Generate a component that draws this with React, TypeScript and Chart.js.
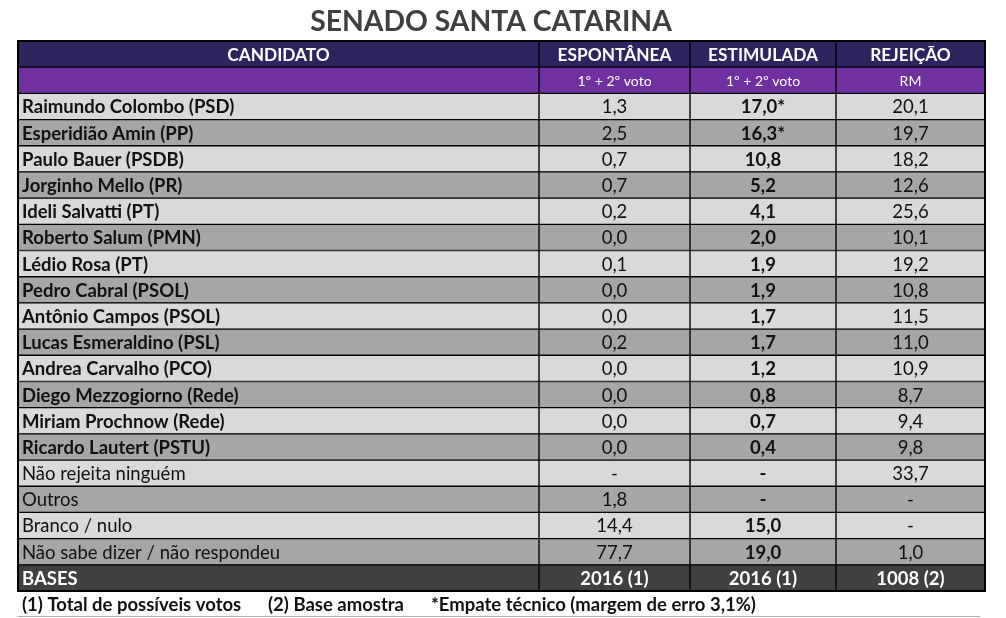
import React, { useEffect, useRef } from "react";
import { Chart, registerables } from "chart.js";

Chart.register(...registerables);

const title = "SENADO SANTA CATARINA";
const columnHeaders = ["CANDIDATO", "ESPONTÂNEA", "ESTIMULADA", "REJEIÇÃO"];
const columnSubHeaders = ["", "1º + 2º voto", "1º + 2º voto", "RM"];
const candidates = [
  "Raimundo Colombo (PSD)",
  "Esperidião Amin (PP)",
  "Paulo Bauer (PSDB)",
  "Jorginho Mello (PR)",
  "Ideli Salvatti (PT)",
  "Roberto Salum (PMN)",
  "Lédio Rosa (PT)",
  "Pedro Cabral (PSOL)",
  "Antônio Campos (PSOL)",
  "Lucas Esmeraldino (PSL)",
  "Andrea Carvalho (PCO)",
  "Diego Mezzogiorno (Rede)",
  "Miriam Prochnow (Rede)",
  "Ricardo Lautert (PSTU)",
  "Não rejeita ninguém",
  "Outros",
  "Branco / nulo",
  "Não sabe dizer / não respondeu",
];
const isCandidate = [
  true, true, true, true, true, true, true, true, true, true, true, true, true, true,
  false, false, false, false,
];
const espontanea = [1.3, 2.5, 0.7, 0.7, 0.2, 0.0, 0.1, 0.0, 0.0, 0.2, 0.0, 0.0, 0.0, 0.0, null, 1.8, 14.4, 77.7];
const estimulada = [17.0, 16.3, 10.8, 5.2, 4.1, 2.0, 1.9, 1.9, 1.7, 1.7, 1.2, 0.8, 0.7, 0.4, null, null, 15.0, 19.0];
const rejeicao = [20.1, 19.7, 18.2, 12.6, 25.6, 10.1, 19.2, 10.8, 11.5, 11.0, 10.9, 8.7, 9.4, 9.8, 33.7, null, null, 1.0];
const empateTecnico = [
  true, true, false, false, false, false, false, false, false, false, false, false, false, false,
  false, false, false, false,
];
const basesLabel = "BASES";
const bases = ["2016 (1)", "2016 (1)", "1008 (2)"];
const footnotes = ["(1) Total de possíveis votos", "(2) Base amostra", "*Empate técnico (margem de erro 3,1%)"];

// layout (not data)
const COL_BOUNDS = [0, 521, 672, 818, 967];
const FONT = "Lato, 'Open Sans', sans-serif";
const NAVY = "#2d255f";
const PURPLE = "#7030a0";
const LIGHT = "#d9d9d9";
const DARK = "#a6a6a6";
const BASES_BG = "#404040";
const ROW_PX = 18.5;

const fmt = (v: number | null) => (v === null ? "-" : v.toFixed(1).replace(".", ","));

const rowLabels = ["__header", "__sub", ...candidates, "__bases"];

function rowColor(i: number) {
  if (i === 0) return NAVY;
  if (i === 1) return PURPLE;
  if (i === rowLabels.length - 1) return BASES_BG;
  return (i - 2) % 2 === 0 ? LIGHT : DARK;
}

const tablePlugin = {
  id: "tableText",
  afterDatasetsDraw(chart: any) {
    const { ctx, chartArea, scales } = chart;
    const xs = scales.x;
    const ys = scales.y;
    ctx.save();
    // outer border
    ctx.strokeStyle = "#000";
    ctx.lineWidth = 2;
    ctx.strokeRect(chartArea.left, chartArea.top, chartArea.right - chartArea.left, chartArea.bottom - chartArea.top);

    ctx.textBaseline = "middle";
    const cellX = (c: number) => {
      if (c === 0) return xs.getPixelForValue(COL_BOUNDS[0]) + 4;
      return (xs.getPixelForValue(COL_BOUNDS[c]) + xs.getPixelForValue(COL_BOUNDS[c + 1])) / 2;
    };
    const put = (text: string, r: number, c: number, font: string, color: string, center?: boolean) => {
      const y = ys.getPixelForValue(r) + 1;
      ctx.font = font;
      ctx.fillStyle = color;
      ctx.textAlign = c === 0 && !center ? "left" : "center";
      const x = c === 0 && center ? (xs.getPixelForValue(COL_BOUNDS[0]) + xs.getPixelForValue(COL_BOUNDS[1])) / 2 : cellX(c);
      ctx.fillText(text, x, y);
    };

    // headers
    columnHeaders.forEach((h, c) => put(h, 0, c, `bold 17.3px ${FONT}`, "#fff", true));
    columnSubHeaders.forEach((h, c) => { if (h) put(h, 1, c, `14px ${FONT}`, "#fff"); });

    candidates.forEach((name, k) => {
      const r = k + 2;
      put(name, r, 0, `${isCandidate[k] ? "bold " : ""}${ROW_PX}px ${FONT}`, "#111");
      put(fmt(espontanea[k]), r, 1, `${ROW_PX}px ${FONT}`, "#111");
      put(fmt(estimulada[k]) + (empateTecnico[k] ? "*" : ""), r, 2, `bold ${ROW_PX}px ${FONT}`, "#111");
      put(fmt(rejeicao[k]), r, 3, `${ROW_PX}px ${FONT}`, "#111");
    });
    const br = rowLabels.length - 1;
    put(basesLabel, br, 0, `bold ${ROW_PX}px ${FONT}`, "#fff");
    bases.forEach((b, i) => put(b, br, i + 1, `bold ${ROW_PX}px ${FONT}`, "#fff"));

    // title
    ctx.font = `bold 28.3px ${FONT}`;
    ctx.fillStyle = "#3f3f3f";
    ctx.textAlign = "center";
    ctx.fillText(title, 491, 22);

    // footnotes
    ctx.font = `bold 18.5px ${FONT}`;
    ctx.fillStyle = "#111";
    ctx.textAlign = "left";
    const fx = [22, 268, 431];
    footnotes.forEach((f, i) => ctx.fillText(f, fx[i], 605));
    ctx.strokeStyle = "#b0b0b0";
    ctx.lineWidth = 1;
    ctx.beginPath();
    ctx.moveTo(18, 616.5);
    ctx.lineTo(980, 616.5);
    ctx.stroke();
    ctx.restore();
  },
};

export default function App() {
  const ref = useRef<HTMLCanvasElement | null>(null);
  useEffect(() => {
    let chart: Chart | null = null;
    let cancelled = false;
    const make = () => {
      if (cancelled || !ref.current) return;
      const datasets = COL_BOUNDS.slice(0, -1).map((start, c) => ({
        label: columnHeaders[c],
        data: rowLabels.map(() => [start, COL_BOUNDS[c + 1]]),
        backgroundColor: rowLabels.map((_, i) => rowColor(i)),
        borderColor: "#000",
        borderWidth: 1,
        borderSkipped: false,
        grouped: false,
        barPercentage: 1,
        categoryPercentage: 1,
      }));
      chart = new Chart(ref.current, {
        type: "bar",
        data: { labels: rowLabels, datasets: datasets as any },
        options: {
          indexAxis: "y",
          responsive: false,
          animation: false,
          layout: { padding: { left: 18, right: 21, top: 41, bottom: 27 } },
          plugins: { legend: { display: false }, tooltip: { enabled: false }, title: { display: false } },
          scales: {
            x: { type: "linear", min: COL_BOUNDS[0], max: COL_BOUNDS[COL_BOUNDS.length - 1], display: false },
            y: { type: "category", display: false },
          },
        },
        plugins: [tablePlugin],
      });
    };
    const fonts = (document as any).fonts;
    if (fonts && fonts.load) {
      Promise.all([fonts.load(`bold 17px Lato`), fonts.load(`17px Lato`)]).then(make, make);
    } else make();
    return () => {
      cancelled = true;
      if (chart) chart.destroy();
    };
  }, []);
  return (
    <div style={{ position: "absolute", left: 0, top: 0, width: 1006, height: 618, background: "#fff" }}>
      <canvas ref={ref} width={1006} height={618} style={{ display: "block" }} />
    </div>
  );
}
